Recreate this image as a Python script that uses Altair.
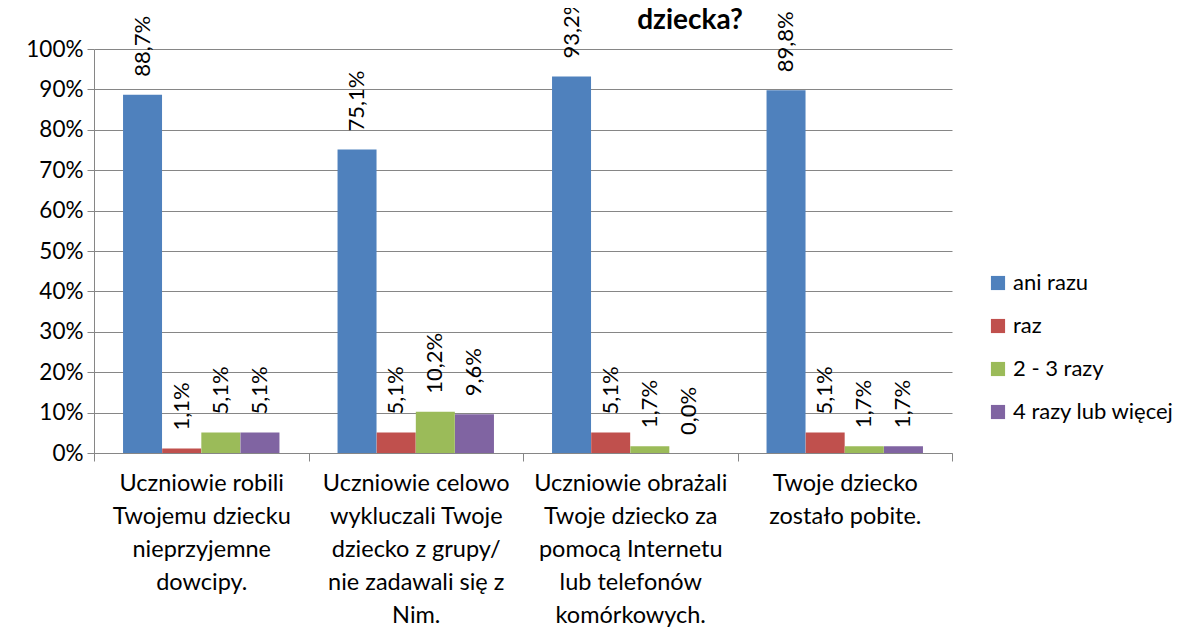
import altair as alt
import pandas as pd

categories = [
    "Uczniowie robili\nTwojemu dziecku\nnieprzyjemne\ndowcipy.",
    "Uczniowie celowo\nwykluczali Twoje\ndziecko z grupy/\nnie zadawali się z\nNim.",
    "Uczniowie obrażali\nTwoje dziecko za\npomocą Internetu\nlub telefonów\nkomórkowych.",
    "Twoje dziecko\nzostało pobite.",
]
series = ["ani razu", "raz", "2 - 3 razy", "4 razy lub więcej"]
colors = ["#4F81BD", "#C0504D", "#9BBB59", "#8064A2"]
ani_razu = [88.7, 75.1, 93.2, 89.8]
raz = [1.1, 5.1, 5.1, 5.1]
dwa_trzy = [5.1, 10.2, 1.7, 1.7]
cztery = [5.1, 9.6, 0.0, 1.7]
title_text = ["dziecka?"]

rows = []
for s, vals in zip(series, [ani_razu, raz, dwa_trzy, cztery]):
    for c, v in zip(categories, vals):
        rows.append({"cat": c, "series": s, "value": v / 100.0,
                     "label": f"{v:.1f}".replace(".", ",") + "%"})
df = pd.DataFrame(rows)

FONT = "Lato"

x = alt.X("cat:N", sort=categories, title=None,
          scale=alt.Scale(paddingInner=0, paddingOuter=0),
          axis=alt.Axis(labelAngle=0, labelExpr="split(datum.label, '\\n')",
                        labelFontSize=23.5, labelLineHeight=33, labelFont=FONT,
                        labelColor="#000000", labelPadding=10,
                        tickBand="extent", tickSize=8, tickColor="#868686",
                        domainColor="#868686", grid=False, labelLimit=300))
xo = alt.XOffset("series:N", sort=series,
                 scale=alt.Scale(paddingOuter=0.74, paddingInner=0))
y = alt.Y("value:Q", title=None,
          scale=alt.Scale(domain=[0, 1], nice=False),
          axis=alt.Axis(format=".0%", values=[i / 10 for i in range(11)],
                        labelFontSize=22.5, labelFont=FONT, labelColor="#000000",
                        tickSize=7, tickColor="#868686", domainColor="#868686",
                        gridColor="#868686", labelPadding=4))
color = alt.Color("series:N", sort=series,
                  scale=alt.Scale(domain=series, range=colors),
                  legend=alt.Legend(title=None, labelFontSize=22, labelFont=FONT,
                                    labelColor="#000000", symbolType="square",
                                    symbolSize=200, symbolStrokeWidth=0,
                                    labelLimit=300,
                                    rowPadding=21, orient="none",
                                    legendX=893, legendY=223))

bars = alt.Chart(df).mark_bar(size=39).encode(x=x, xOffset=xo, y=y, color=color)
texts = alt.Chart(df).mark_text(angle=270, align="left", baseline="middle",
                                dx=18, fontSize=22, font=FONT, color="#000000").encode(
    x=x, xOffset=xo, y=y, text="label:N")
title = alt.Chart(pd.DataFrame({"t": title_text})).mark_text(
    fontSize=28, font=FONT, fontWeight="bold", color="#000000",
    align="center", baseline="alphabetic").encode(
    x=alt.value(596), y=alt.value(-20), text="t:N")

chart = alt.layer(bars, texts, title).properties(
    width=858, height=404,
    autosize=alt.AutoSizeParams(type="none"),
    padding={"left": 86, "top": 41, "right": 230, "bottom": 190},
).configure_view(stroke=None).configure_axis(gridWidth=1)

chart.save("out.html", embed_options={"renderer": "svg", "actions": False})
